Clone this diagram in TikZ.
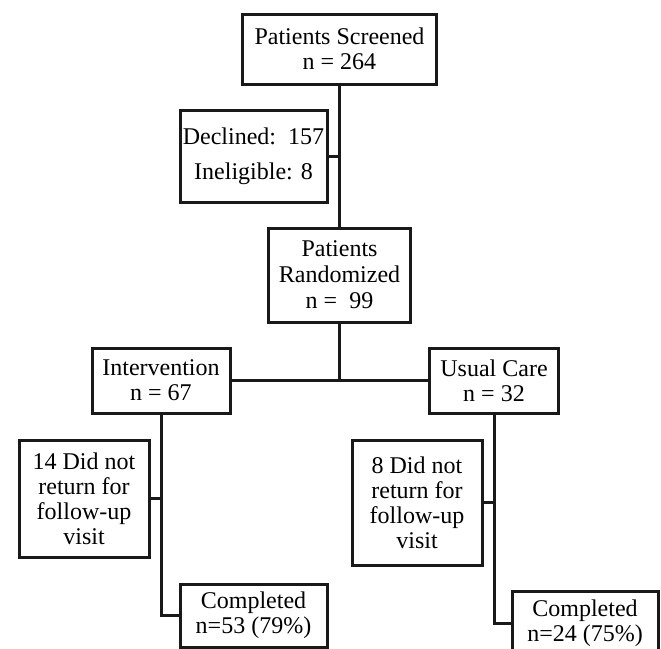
\documentclass[tikz,border=0pt]{standalone}
\usepackage{fontspec}
\setmainfont{Liberation Serif}
\begin{document}
\begin{tikzpicture}[x=1pt,y=-1pt,
  box/.style={draw=black!90, line width=3pt, align=center, inner sep=0pt,
    font=\fontsize{24}{25}\selectfont},
  conn/.style={draw=black!90, line width=3pt}]
\useasboundingbox (0,0) rectangle (661,648);
\clip (0,0) rectangle (661,648);
\node[box, minimum width=194pt, minimum height=70pt] (scr) at (339.5,49) {Patients Screened\\n = 264};
\node[box, minimum width=147pt, minimum height=92pt] (dec) at (253.5,156) {Declined:\ \ 157\\[10pt]Ineligible: 8};
\node[box, minimum width=142pt, minimum height=94pt, font=\fontsize{24}{26}\selectfont] (ran) at (339.5,275) {Patients\\Randomized\\n =\ \ 99};
\node[box, minimum width=138pt, minimum height=65pt] (int) at (161,380.5) {Intervention\\n = 67};
\node[box, minimum width=129pt, minimum height=65pt] (usu) at (494,380.5) {Usual Care\\n = 32};
\node[box, minimum width=130pt, minimum height=117pt] (d14) at (84,498.5) {14 Did not\\return for\\follow-up\\visit};
\node[box, minimum width=130pt, minimum height=125pt] (d8) at (417,502.5) {8 Did not\\return for\\follow-up\\visit};
\node[box, minimum width=147pt, minimum height=63pt] (cL) at (253.5,615.5) {Completed\\n=53 (79\%)};
\node[box, minimum width=146pt, minimum height=64pt] (cR) at (585,623) {Completed\\n=24 (75\%)};
\draw[conn] (scr.south) -- (ran.north);
\draw[conn] (dec.east) -- (dec.east -| scr.south);
\draw[conn] (ran.south) -- (ran.south |- int.east);
\draw[conn] (int.east) -- (usu.west);
\draw[conn] (int.south) |- (cL.west);
\draw[conn] (d14.east) -- (d14.east -| int.south);
\draw[conn] (usu.south) |- (cR.west);
\draw[conn] (d8.east) -- (d8.east -| usu.south);
\end{tikzpicture}
\end{document}
